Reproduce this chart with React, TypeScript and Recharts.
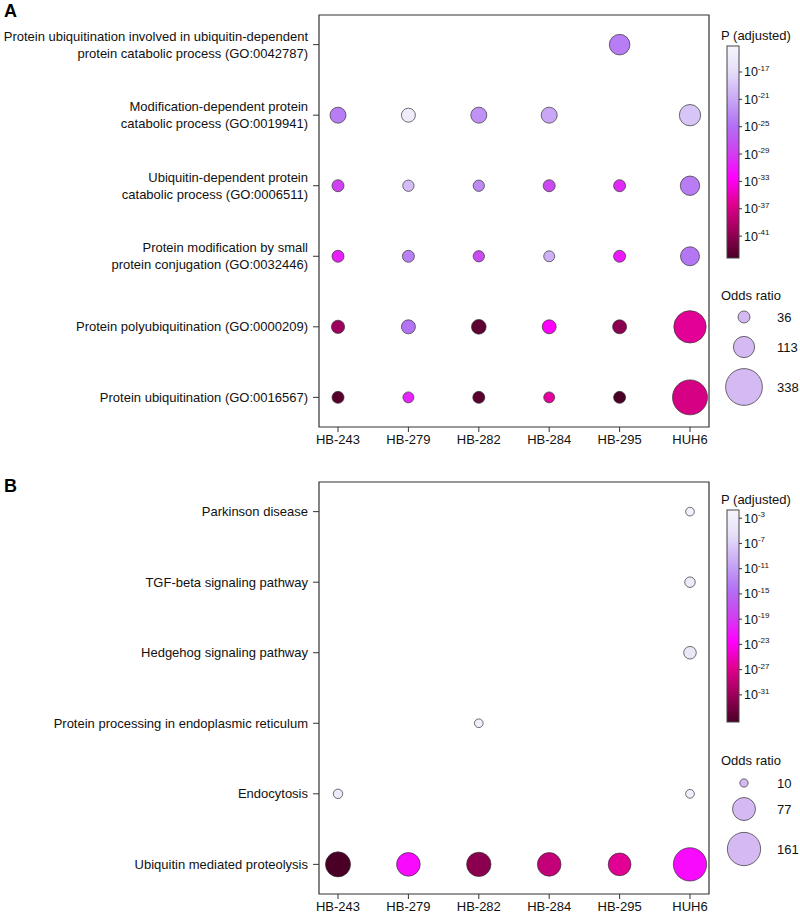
import React from "react";
import { ScatterChart, Scatter, XAxis, YAxis, ZAxis, ReferenceArea, Cell } from "recharts";

const FONT = "'Liberation Sans', Arial, Helvetica, sans-serif";

const CELL_LINES = ["HB-243", "HB-279", "HB-282", "HB-284", "HB-295", "HUH6"];

// Panel A: GO terms (top to bottom)
const GO_TERMS = [
  ["Protein ubiquitination involved in ubiquitin-dependent", "protein catabolic process (GO:0042787)"],
  ["Modification-dependent protein", "catabolic process (GO:0019941)"],
  ["Ubiquitin-dependent protein", "catabolic process (GO:0006511)"],
  ["Protein modification by small", "protein conjugation (GO:0032446)"],
  ["Protein polyubiquitination (GO:0000209)"],
  ["Protein ubiquitination (GO:0016567)"],
];
// odds ratio, rows = terms, cols = cell lines (null = not enriched)
const GO_ODDS = [
  [null, null, null, null, 106, null],
  [64, 49, 64, 64, null, 114],
  [36, 32, 32, 36, 36, 94],
  [36, 36, 32, 30, 36, 90],
  [44, 49, 54, 49, 49, 262],
  [36, 30, 36, 30, 36, 306],
];
// log10 adjusted p
const GO_LOGP = [
  [null, null, null, null, -24, null],
  [-24, -14.8, -22.5, -21, null, -18.8],
  [-28.7, -19.4, -23.1, -28, -30, -24],
  [-30.6, -23.7, -27.8, -20.3, -30.9, -24.4],
  [-40.2, -24.7, -43.3, -32.4, -41.1, -36.1],
  [-43.6, -30.3, -43.5, -35.8, -44.2, -37],
];
const GO_P_RANGE = [-13.2, -44.2];
const GO_P_TICKS = [-17, -21, -25, -29, -33, -37, -41];
const GO_ODDS_LEGEND = [36, 113, 338];

// Panel B: KEGG pathways (top to bottom)
const KEGG_TERMS = [
  ["Parkinson disease"],
  ["TGF-beta signaling pathway"],
  ["Hedgehog signaling pathway"],
  ["Protein processing in endoplasmic reticulum"],
  ["Endocytosis"],
  ["Ubiquitin mediated proteolysis"],
];
const KEGG_ODDS = [
  [null, null, null, null, null, 11],
  [null, null, null, null, null, 16],
  [null, null, null, null, null, 23],
  [null, null, 11, null, null, null],
  [13, null, null, null, null, 11],
  [91, 81, 86, 81, 75, 161],
];
const KEGG_LOGP = [
  [null, null, null, null, null, -2.7],
  [null, null, null, null, null, -3.7],
  [null, null, null, null, null, -4.4],
  [null, null, -3, null, null, null],
  [-3.7, null, null, null, null, -3],
  [-35.3, -21.9, -32, -28.6, -26.6, -21.9],
];
const KEGG_P_RANGE = [-1.7, -35.3];
const KEGG_P_TICKS = [-3, -7, -11, -15, -19, -23, -27, -31];
const KEGG_ODDS_LEGEND = [10, 77, 161];

const COLOR_STOPS: [number, string][] = [
  [0, "#f7f5fc"],
  [0.12, "#e6def8"],
  [0.25, "#c9a8f6"],
  [0.38, "#b26ef4"],
  [0.5, "#d040f2"],
  [0.62, "#ff00ff"],
  [0.75, "#e0008c"],
  [0.88, "#980058"],
  [1, "#4a0026"],
];

function hexToRgb(h: string) {
  const n = parseInt(h.slice(1), 16);
  return [(n >> 16) & 255, (n >> 8) & 255, n & 255];
}

function colorAt(f: number) {
  const t = Math.max(0, Math.min(1, f));
  for (let i = 1; i < COLOR_STOPS.length; i++) {
    const [p1, c1] = COLOR_STOPS[i];
    const [p0, c0] = COLOR_STOPS[i - 1];
    if (t <= p1) {
      const k = (t - p0) / (p1 - p0);
      const a = hexToRgb(c0);
      const b = hexToRgb(c1);
      const m = a.map((v, j) => Math.round(v + (b[j] - v) * k));
      return `rgb(${m[0]},${m[1]},${m[2]})`;
    }
  }
  return COLOR_STOPS[COLOR_STOPS.length - 1][1];
}

function buildPoints(odds: (number | null)[][], logp: (number | null)[][], range: number[]) {
  const pts: any[] = [];
  odds.forEach((row, r) =>
    row.forEach((o, c) => {
      if (o == null) return;
      const lp = logp[r][c] as number;
      pts.push({ x: c, y: r, z: o, fill: colorAt((range[0] - lp) / (range[0] - range[1])) });
    })
  );
  return pts;
}

const CHART_W = 800;
const CHART_H = 460;
const MARGIN = { top: 15, right: 91, bottom: 0, left: 0 };
const X_DOMAIN = [-0.27, 5.27];
const Y_DOMAIN = [-0.42, 5.42];
const FS = 13;

function TermTick({ x, y, payload, labels }: any) {
  const lines: string[] = labels[payload.value] || [];
  const lh = 17;
  const y0 = y - ((lines.length - 1) * lh) / 2;
  return (
    <text x={x} y={y0} textAnchor="end" fontSize={FS} fill="#111" fontFamily={FONT}>
      {lines.map((l, i) => (
        <tspan key={i} x={x} y={y0 + i * lh} dy="0.35em">
          {l}
        </tspan>
      ))}
    </text>
  );
}

function BubblePanel({ labels, points, maxOdds, areaK }: any) {
  return (
    <ScatterChart width={CHART_W} height={CHART_H} margin={MARGIN}>
      <XAxis
        type="number"
        dataKey="x"
        domain={X_DOMAIN}
        ticks={[0, 1, 2, 3, 4, 5]}
        tickFormatter={(v: number) => CELL_LINES[v]}
        axisLine={false}
        tickLine={{ stroke: "#333" }}
        tickSize={5}
        tickMargin={3}
        height={33}
        tick={{ fontSize: FS, fill: "#111", fontFamily: FONT }}
        allowDataOverflow
      />
      <YAxis
        type="number"
        dataKey="y"
        domain={Y_DOMAIN}
        reversed
        ticks={[0, 1, 2, 3, 4, 5]}
        width={319}
        axisLine={false}
        tickLine={{ stroke: "#333" }}
        tickSize={6}
        tickMargin={5}
        tick={<TermTick labels={labels} />}
        allowDataOverflow
      />
      <ZAxis type="number" dataKey="z" domain={[0, maxOdds]} range={[0, Math.PI * areaK * maxOdds]} />
      <ReferenceArea
        x1={X_DOMAIN[0]}
        x2={X_DOMAIN[1]}
        y1={Y_DOMAIN[0]}
        y2={Y_DOMAIN[1]}
        fill="none"
        stroke="#333"
        strokeWidth={1.2}
        ifOverflow="visible"
      />
      <Scatter data={points} shape="circle" isAnimationActive={false}>
        {points.map((p: any, i: number) => (
          <Cell key={i} fill={p.fill} stroke="#333" strokeWidth={0.7} />
        ))}
      </Scatter>
    </ScatterChart>
  );
}

function ColorBar({ top, range, ticks, gid }: any) {
  const x = 727;
  const w = 12;
  const h = 212;
  const yOf = (v: number) => top + ((range[0] - v) / (range[0] - range[1])) * h;
  return (
    <g fontFamily={FONT}>
      <defs>
        <linearGradient id={gid} x1="0" y1="0" x2="0" y2="1">
          {COLOR_STOPS.map(([o, c]) => (
            <stop key={o} offset={o} stopColor={c} />
          ))}
        </linearGradient>
      </defs>
      <text x={721} y={top - 11} fontSize={FS} fill="#111" dominantBaseline="central">
        P (adjusted)
      </text>
      <rect x={x} y={top} width={w} height={h} fill={`url(#${gid})`} stroke="#444" strokeWidth={1} />
      {ticks.map((t: number) => (
        <g key={t}>
          <line x1={x + w} x2={x + w + 3} y1={yOf(t)} y2={yOf(t)} stroke="#333" />
          <text x={x + w + 5} y={yOf(t) + 4.5} fontSize={12.5} fill="#111">
            10
            <tspan dy={-5.5} fontSize={8}>
              {t}
            </tspan>
          </text>
        </g>
      ))}
    </g>
  );
}

function OddsLegend({ titleY, ys, values, maxOdds, areaK }: any) {
  const rOf = (v: number) => Math.sqrt(areaK * maxOdds * (v / maxOdds));
  return (
    <g fontFamily={FONT}>
      <text x={721} y={titleY} fontSize={FS} fill="#111" dominantBaseline="central">
        Odds ratio
      </text>
      {values.map((v: number, i: number) => (
        <g key={v}>
          <circle cx={744} cy={ys[i]} r={rOf(v)} fill="#d5b9f2" stroke="#333" strokeWidth={0.7} />
          <text x={777} y={ys[i]} fontSize={FS} fill="#111" dominantBaseline="central">
            {v}
          </text>
        </g>
      ))}
    </g>
  );
}

export default function App() {
  const goPts = buildPoints(GO_ODDS, GO_LOGP, GO_P_RANGE);
  const keggPts = buildPoints(KEGG_ODDS, KEGG_LOGP, KEGG_P_RANGE);
  return (
    <div style={{ position: "absolute", left: 0, top: 0, width: 800, height: 915, background: "#fff" }}>
      <div style={{ position: "absolute", left: 0, top: 0 }}>
        <BubblePanel labels={GO_TERMS} points={goPts} maxOdds={338} areaK={1} />
      </div>
      <div style={{ position: "absolute", left: 0, top: 467 }}>
        <BubblePanel labels={KEGG_TERMS} points={keggPts} maxOdds={161} areaK={1.72} />
      </div>
      <svg width={800} height={915} style={{ position: "absolute", left: 0, top: 0, pointerEvents: "none" }}>
        <text x={4} y={17} fontSize={18} fontWeight="bold" fontFamily={FONT} fill="#000">A</text>
        <text x={4} y={492} fontSize={18} fontWeight="bold" fontFamily={FONT} fill="#000">B</text>
        <ColorBar top={46} range={GO_P_RANGE} ticks={GO_P_TICKS} gid="cbA" />
        <ColorBar top={510} range={KEGG_P_RANGE} ticks={KEGG_P_TICKS} gid="cbB" />
        <OddsLegend titleY={295} ys={[317, 347, 387]} values={GO_ODDS_LEGEND} maxOdds={338} areaK={1} />
        <OddsLegend titleY={760} ys={[783, 809, 849]} values={KEGG_ODDS_LEGEND} maxOdds={161} areaK={1.72} />
      </svg>
    </div>
  );
}
